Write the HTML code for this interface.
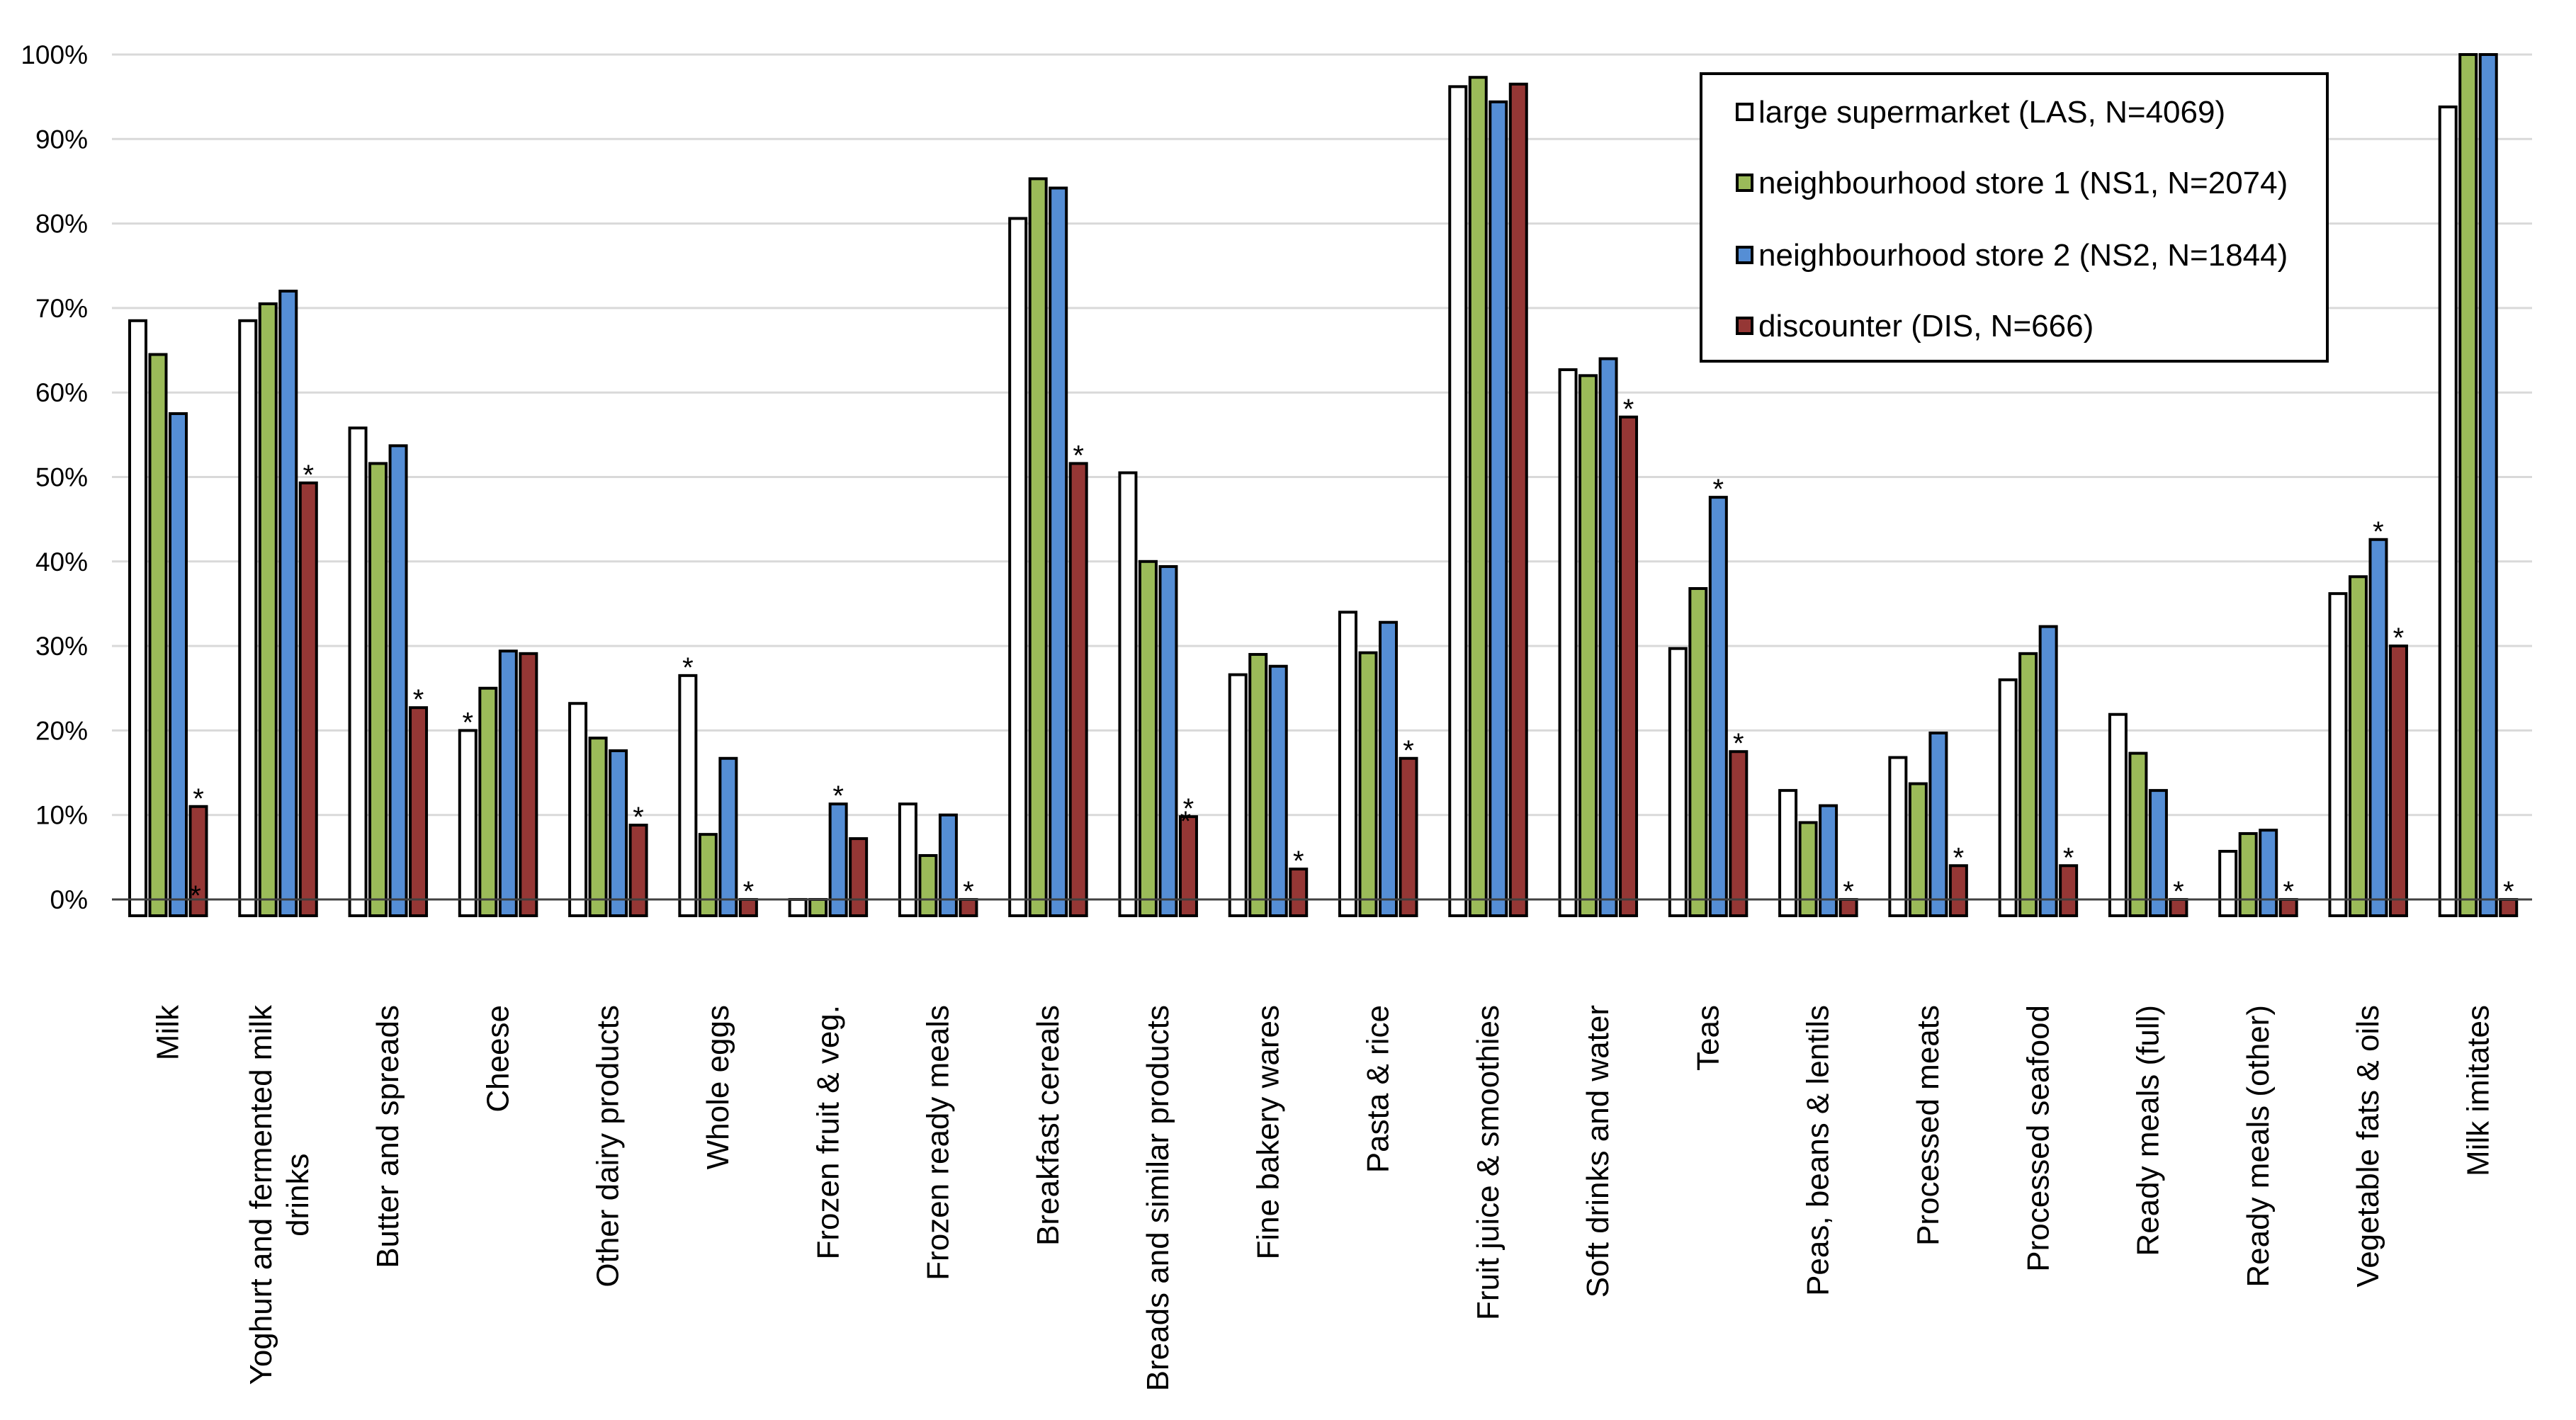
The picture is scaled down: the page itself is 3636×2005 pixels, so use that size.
<!DOCTYPE html>
<html><head><meta charset="utf-8"><style>
html,body{margin:0;padding:0;background:#fff;}
svg{display:block;font-family:"Liberation Sans",Arial,sans-serif;}
</style></head><body>
<svg id="chart" width="3636" height="2005" viewBox="0 0 3636 2005" xmlns="http://www.w3.org/2000/svg">
<g id="grid"></g>
<g id="bars"></g>
<g id="stars"></g>
<g id="yaxis"></g>
<g id="xaxis"></g>
<g>
  <rect x="2401" y="104" width="884" height="406" fill="#fff" stroke="#000" stroke-width="4"/>
  <g><rect x="2452" y="147" width="21" height="22" fill="#fff" stroke="#000" stroke-width="4"/><text x="2482" y="173" font-size="44">large supermarket (LAS, N=4069)</text></g>
  <g><rect x="2452" y="247" width="21" height="22" fill="#9BBB59" stroke="#000" stroke-width="4"/><text x="2482" y="273" font-size="44">neighbourhood store 1 (NS1, N=2074)</text></g>
  <g><rect x="2452" y="349" width="21" height="22" fill="#558ED5" stroke="#000" stroke-width="4"/><text x="2482" y="375" font-size="44">neighbourhood store 2 (NS2, N=1844)</text></g>
  <g><rect x="2452" y="449" width="21" height="22" fill="#953735" stroke="#000" stroke-width="4"/><text x="2482" y="475" font-size="44">discounter (DIS, N=666)</text></g>
</g>
</svg>
<script>
const categories = ["Milk","Yoghurt and fermented milk|drinks","Butter and spreads","Cheese","Other dairy products","Whole eggs","Frozen fruit & veg.","Frozen ready meals","Breakfast cereals","Breads and similar products","Fine bakery wares","Pasta & rice","Fruit juice & smoothies","Soft drinks and water","Teas","Peas, beans & lentils","Processed meats","Processed seafood","Ready meals (full)","Ready meals (other)","Vegetable fats & oils","Milk imitates"];
const lasValues = [68.5,68.5,55.8,20,23.2,26.5,0,11.3,80.6,50.5,26.6,34,96.2,62.7,29.7,12.9,16.8,26,21.9,5.7,36.2,93.8];
const ns1Values = [64.5,70.5,51.6,25,19.1,7.7,0,5.2,85.3,40,29,29.2,97.3,62,36.8,9.1,13.7,29.1,17.3,7.8,38.2,100];
const ns2Values = [57.5,72,53.7,29.4,17.6,16.7,11.3,10,84.2,39.4,27.6,32.8,94.4,64,47.6,11.1,19.7,32.3,12.9,8.2,42.6,100];
const disValues = [11,49.3,22.7,29.1,8.8,0,7.2,0,51.6,9.8,3.6,16.7,96.5,57.1,17.5,0,4,4,0,0,30,0];
const lasStars = [0,0,0,1,0,1,0,0,0,0,0,0,0,0,0,0,0,0,0,0,0,0];
const ns1Stars = [0,0,0,0,0,0,0,0,0,0,0,0,0,0,0,0,0,0,0,0,0,0];
const ns2Stars = [0,0,0,0,0,0,1,0,0,0,0,0,0,0,1,0,0,0,0,0,1,0];
const disStars = [2,1,1,0,1,1,0,1,1,2,1,1,0,1,1,1,1,1,1,1,1,1];
const yTicks = [0,10,20,30,40,50,60,70,80,90,100];
const yTickLabels = ["0%","10%","20%","30%","40%","50%","60%","70%","80%","90%","100%"];

const NS="http://www.w3.org/2000/svg";
const X0=158, X1=3574, Y0=1270, Y100=77, YB=1293;
const catW=(X1-X0)/categories.length;
function yScale(v){return Y0-(Math.min(v,100)/100)*(Y0-Y100);}
function xCat(i){return X0+i*catW;}
function mk(tag,attrs,parent){const e=document.createElementNS(NS,tag);for(const k in attrs)e.setAttribute(k,attrs[k]);parent.appendChild(e);return e;}

const grid=document.getElementById('grid'), yaxis=document.getElementById('yaxis');
yTicks.forEach((t,i)=>{
  const y=yScale(t);
  if(t>0){const l=mk('line',{x1:X0,x2:X1,y1:y,y2:y,stroke:'#d9d9d9','stroke-width':3},grid);
    
    }
  const tx=mk('text',{x:124,y:y+13,'font-size':37,'text-anchor':'end'},yaxis);
  tx.textContent=yTickLabels[i];
  
  
});

const series=[{v:lasValues,s:lasStars,c:'#ffffff',n:'las'},{v:ns1Values,s:ns1Stars,c:'#9BBB59',n:'ns1'},{v:ns2Values,s:ns2Stars,c:'#558ED5',n:'ns2'},{v:disValues,s:disStars,c:'#953735',n:'dis'}];
const bars=document.getElementById('bars'), stars=document.getElementById('stars');
const pitch=28.5, bw=23, off=25;
categories.forEach((cat,i)=>{
  series.forEach((se,j)=>{
    const x=xCat(i)+off+j*pitch;
    const top=yScale(se.v[i]);
    const r=mk('rect',{x:x,y:top,width:bw,height:YB-top,fill:se.c,stroke:'#000','stroke-width':4},bars);
    
    
    const ns=se.s[i];
    for(let k=0;k<ns;k++){
      const sy = k===0 ? top+2 : (i===0 ? 1278 : top+20);
      const sx = k===0 ? x+bw/2 : x+bw/2-4;
      const st=mk('text',{x:sx,y:sy,'font-size':40,'text-anchor':'middle'},stars);
      st.textContent='*';
      
      
    }
  });
});
const ax=mk('line',{x1:X0,x2:X1,y1:Y0,y2:Y0,stroke:'#404040','stroke-width':3},document.getElementById('xaxis'));



const LY=1419;
const xaxis=document.getElementById('xaxis');
categories.forEach((cat,i)=>{
  const cx=xCat(i)+catW/2;
  const lines=cat.split('|');
  const g=mk('g',{},xaxis);
  
  
  if(lines.length===1){
    const t=mk('text',{transform:`translate(${cx+16},${LY}) rotate(-90)`,'font-size':44,'text-anchor':'end'},g);
    t.textContent=lines[0];
  } else {
    const t1=mk('text',{transform:`translate(${cx-8},${LY}) rotate(-90)`,'font-size':44,'text-anchor':'end'},g);
    t1.textContent=lines[0];
    const len=t1.getComputedTextLength();
    const mid=LY+len/2;
    const t2=mk('text',{transform:`translate(${cx+44},${mid}) rotate(-90)`,'font-size':44,'text-anchor':'middle'},g);
    t2.textContent=lines[1];
  }
});
</script>
</body></html>
